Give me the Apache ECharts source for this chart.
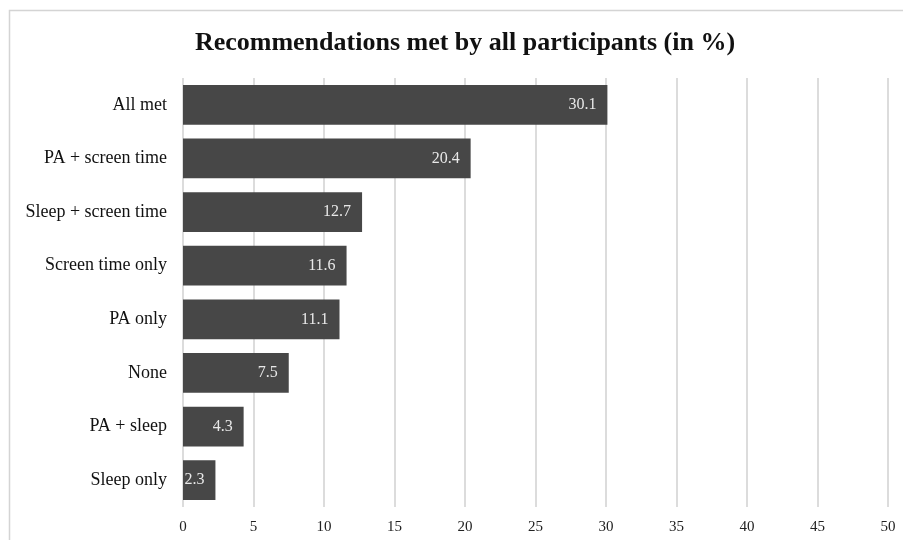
<!DOCTYPE html>
<html>
<head>
<meta charset="utf-8">
<script src="https://cdn.jsdelivr.net/npm/echarts@6/dist/echarts.min.js"></script>
<style>
  html, body { margin: 0; padding: 0; background: #fff; }
  #chart { width: 903px; height: 540px; }
</style>
</head>
<body>
<div id="chart"></div>
<script>
// Share of participants meeting each combination of recommendations (%)
const categories = [
  'All met',
  'PA + screen time',
  'Sleep + screen time',
  'Screen time only',
  'PA only',
  'None',
  'PA + sleep',
  'Sleep only'
];
const values = [30.1, 20.4, 12.7, 11.6, 11.1, 7.5, 4.3, 2.3];
const axisMin = 0;
const axisMax = 50;
const axisStep = 5;

const serif = '"Liberation Serif", "DejaVu Serif", serif';

const chart = echarts.init(document.getElementById('chart'), null, { renderer: 'canvas' });
chart.setOption({
  backgroundColor: '#ffffff',
  animation: false,
  title: {
    text: 'Recommendations met by all participants (in %)',
    left: 460,
    top: 25,
    textAlign: 'center',
    textStyle: { fontFamily: serif, fontWeight: 'bold', fontSize: 26, color: '#111' }
  },
  graphic: [{
    type: 'rect',
    shape: { x: 9.5, y: 10.5, width: 1000, height: 1000 },
    style: { fill: 'none', stroke: '#d4d4d4', lineWidth: 1.5 },
    silent: true
  }],
  grid: { left: 183, right: 15, top: 78, bottom: 33, containLabel: false },
  xAxis: {
    type: 'value',
    min: axisMin,
    max: axisMax,
    interval: axisStep,
    axisLine: { show: false },
    axisTick: { show: false },
    splitLine: { show: true, lineStyle: { color: '#d0d0d0', width: 1.5 } },
    axisLabel: { fontFamily: serif, fontSize: 15, color: '#222', margin: 13 }
  },
  yAxis: {
    type: 'category',
    inverse: true,
    data: categories,
    axisLine: { show: false },
    axisTick: { show: false },
    axisLabel: { fontFamily: serif, fontSize: 18, color: '#111', margin: 16 }
  },
  series: [{
    type: 'bar',
    data: values,
    barWidth: '74%',
    itemStyle: { color: '#474747' },
    label: {
      show: true,
      position: 'insideRight',
      distance: 11,
      fontFamily: serif,
      fontSize: 16,
      color: '#e8e8e8',
      formatter: p => p.value.toFixed(1)
    }
  }]
});
</script>
</body>
</html>
